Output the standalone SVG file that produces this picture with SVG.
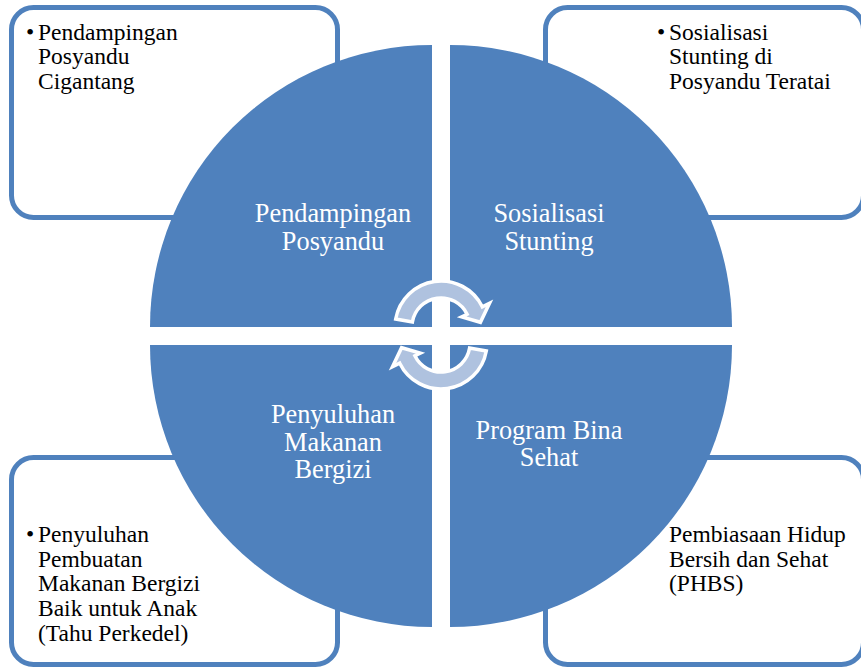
<svg xmlns="http://www.w3.org/2000/svg" width="861" height="669" viewBox="0 0 861 669">
  <style>
    .box { fill: #ffffff; stroke: #4f81bd; stroke-width: 5; }
    .quarter { fill: #4f81bd; }
    .item { font-family: "Liberation Serif", "Times New Roman", serif; font-size: 23.5px; fill: #000000; }
    .label { font-family: "Liberation Serif", "Times New Roman", serif; font-size: 26.3px; fill: #ffffff; text-anchor: middle; }
    .cycle { fill: #afc2df; stroke: #ffffff; stroke-width: 3.5; stroke-linejoin: miter; }
  </style>
  <defs>
    <!-- one curved arrow of the centre cycle, drawn above the centre point -->
    <path id="cycle-arrow" d="M 395.7,319 A 46 46 0 0 1 482.3,306.8 L 489.5,303.3 L 480.4,322.3 L 461.7,316.9 L 467.1,314.3 A 29 29 0 0 0 412.4,322 Z"/>
  </defs>

  <rect width="861" height="669" fill="#ffffff"/>

  <!-- detail boxes in the corners -->
  <g id="box-pendampingan">
    <rect class="box" x="11.5" y="7.5" width="326" height="210" rx="22"/>
    <text class="item" x="26" y="39.5">•</text>
    <text class="item" x="38" y="39.5">Pendampingan</text>
    <text class="item" x="38" y="64">Posyandu</text>
    <text class="item" x="38" y="88.5">Cigantang</text>
  </g>
  <g id="box-sosialisasi">
    <rect class="box" x="545.5" y="7.5" width="318" height="210" rx="22"/>
    <text class="item" x="657" y="39.5">•</text>
    <text class="item" x="669" y="39.5">Sosialisasi</text>
    <text class="item" x="669" y="64">Stunting di</text>
    <text class="item" x="669" y="88.5">Posyandu Teratai</text>
  </g>
  <g id="box-penyuluhan">
    <rect class="box" x="11.5" y="457.5" width="326" height="207" rx="22"/>
    <text class="item" x="26" y="542">•</text>
    <text class="item" x="38" y="542">Penyuluhan</text>
    <text class="item" x="38" y="566.7">Pembuatan</text>
    <text class="item" x="38" y="591.4">Makanan Bergizi</text>
    <text class="item" x="38" y="616.1">Baik untuk Anak</text>
    <text class="item" x="38" y="640.8">(Tahu Perkedel)</text>
  </g>
  <g id="box-phbs">
    <rect class="box" x="545.5" y="457.5" width="318" height="207" rx="22"/>
    <text class="item" x="669" y="542">Pembiasaan Hidup</text>
    <text class="item" x="669" y="566.7">Bersih dan Sehat</text>
    <text class="item" x="669" y="591.4">(PHBS)</text>
  </g>

  <!-- the four quarters of the central circle -->
  <g id="quarter-pendampingan">
    <path class="quarter" d="M 432,327 L 150,327 A 282 282 0 0 1 432,45 Z"/>
    <text class="label" x="333" y="222">Pendampingan</text>
    <text class="label" x="333" y="250">Posyandu</text>
  </g>
  <g id="quarter-sosialisasi">
    <path class="quarter" d="M 450,327 L 450,45 A 282 282 0 0 1 732,327 Z"/>
    <text class="label" x="549" y="222">Sosialisasi</text>
    <text class="label" x="549" y="250">Stunting</text>
  </g>
  <g id="quarter-penyuluhan">
    <path class="quarter" d="M 432,345 L 432,627 A 282 282 0 0 1 150,345 Z"/>
    <text class="label" x="333" y="423">Penyuluhan</text>
    <text class="label" x="333" y="450.5">Makanan</text>
    <text class="label" x="333" y="478">Bergizi</text>
  </g>
  <g id="quarter-bina-sehat">
    <path class="quarter" d="M 450,345 L 732,345 A 282 282 0 0 1 450,627 Z"/>
    <text class="label" x="549" y="438.5">Program Bina</text>
    <text class="label" x="549" y="466">Sehat</text>
  </g>

  <!-- centre cycle arrows -->
  <g id="connectors">
    <use href="#cycle-arrow" class="cycle"/>
    <use href="#cycle-arrow" class="cycle" transform="rotate(180 441 335)"/>
  </g>
</svg>
